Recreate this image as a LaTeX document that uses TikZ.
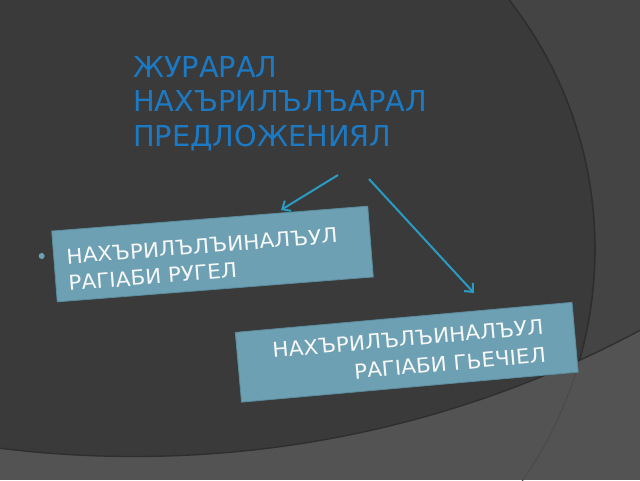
\documentclass[tikz,border=0pt]{standalone}
\usepackage{fontspec}
\usetikzlibrary{arrows.meta}
\newfontfamily\titlefont{DejaVu Sans}
\newfontfamily\boxfont[FakeStretch=1.05]{DejaVu Sans}
\definecolor{bglow}{HTML}{535353}
\definecolor{bgmid}{HTML}{444444}
\definecolor{bgdark}{HTML}{3A3A3A}
\definecolor{faintline}{HTML}{4A4A4A}
\definecolor{shadowline}{HTML}{2E2E2E}
\definecolor{titleblue}{HTML}{1C7AC4}
\definecolor{boxfill}{HTML}{6EA0B3}
\definecolor{boxedge}{HTML}{5A8C9E}
\definecolor{boxtextcol}{HTML}{F6F8F8}
\definecolor{arrowblue}{HTML}{2A9BC3}
\begin{document}
\begin{tikzpicture}[x=0.75pt,y=-0.75pt,
  boxshape/.style={draw=boxedge, line width=0.6pt, fill=boxfill, inner sep=0pt},
  boxtext/.style={text=boxtextcol, inner sep=0pt},
  link/.style={draw=arrowblue, line width=1.5pt, -{Straight Barb[length=5pt,width=9pt]}}]
\useasboundingbox (0,0) rectangle (640,480);
\clip (0,0) rectangle (640,480);
% background
\fill[bglow] (0,0) rectangle (640,480);
\draw[line width=0.8pt, faintline] (189,249) circle[radius=304.5pt];
\begin{scope}
  \clip (134,-619.5) circle[radius=807pt];
  \fill[bgmid] (0,0) rectangle (640,480);
  \fill[bgdark] (191,249) circle[radius=303pt];
  \draw[line width=1.2pt, shadowline] (191,249) circle[radius=303pt];
\end{scope}
\draw[line width=1pt, shadowline] (134,-619.5) circle[radius=807pt];
% title (anchor base = baseline of the last line)
\node[anchor=base west, inner sep=0pt, align=left, text=titleblue,
      font=\titlefont\fontsize{21.6}{26}\selectfont] (title) at (133,146.5)
      {ЖУРАРАЛ\\НАХЪРИЛЪЛЪАРАЛ\\ПРЕДЛОЖЕНИЯЛ};
% bullet
\node[circle, fill=boxfill, inner sep=0pt, minimum size=4.5pt] (bullet) at (41.7,256) {};
% box 1
\begin{scope}[shift={(212.5,254)}, rotate=4.5, transform shape]
  \node[boxshape, minimum width=237.75pt, minimum height=53.25pt] (box1) at (0,0) {};
  \node[boxtext, align=left, anchor=base west,
        font=\boxfont\fontsize{15.4}{20.1}\selectfont] (box1text) at (-146,25.4)
        {НАХЪРИЛЪЛЪИНАЛЪУЛ\\РАГІАБИ РУГЕЛ};
\end{scope}
% box 2
\begin{scope}[shift={(406.75,352.25)}, rotate=5.1, transform shape]
  \node[boxshape, minimum width=253.5pt, minimum height=52.5pt] (box2) at (0,0) {};
  \node[boxtext, align=right, anchor=base east,
        font=\boxfont\fontsize{15.4}{21.2}\selectfont] (box2text) at (138.5,22.1)
        {НАХЪРИЛЪЛЪИНАЛЪУЛ\\РАГІАБИ ГЬЕЧІЕЛ};
\end{scope}
% arrows
\coordinate (a1from) at (338,175);
\coordinate (a1to) at (281,210);
\coordinate (a2from) at (369,179);
\coordinate (a2to) at (474,293);
\draw[link] (a1from) -- (a1to);
\draw[link] (a2from) -- (a2to);
\end{tikzpicture}
\end{document}
